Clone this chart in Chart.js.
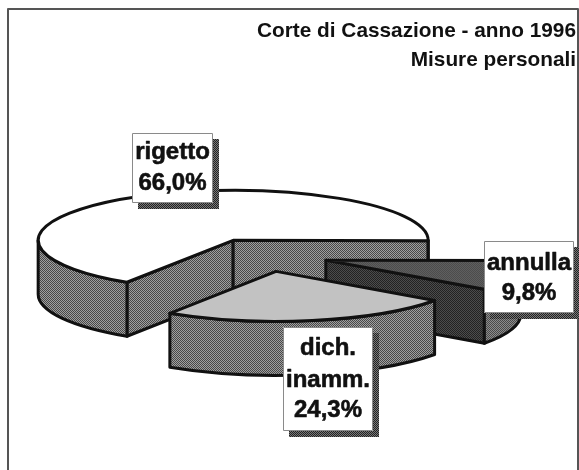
<!DOCTYPE html>
<html>
<head>
<meta charset="utf-8">
<style>
  html, body { margin: 0; padding: 0; background: #fff; }
  #wrap { position: relative; width: 579px; height: 470px; }
</style>
<script src="https://cdn.jsdelivr.net/npm/chart.js@4/dist/chart.umd.js"></script>
</head>
<body>
<div id="wrap"><canvas id="pie" width="579" height="470"></canvas></div>
<script>
// Dati (l'ordine e' anche l'ordine di disegno)
const categories = ['rigetto', 'annulla', 'dich. inamm.'];
const percentages = [66.0, 9.8, 24.3];
const labelLines = [['rigetto'], ['annulla'], ['dich.', 'inamm.']];
const titleLines = ['Corte di Cassazione - anno 1996', 'Misure personali'];

// Aspetto della torta 3D
const centerX = 264;
const centerY = 255;
const radius = 195;
const squash = 50 / 195;
const depth = 54;
const explode = 65;
const startDeg = 213;
const edgeColor = '#111111';

// Riquadri delle etichette, stesso ordine di categories
const labelBoxes = [
    { left: 132, top: 133, right: 213, bottom: 203, lineY: [152, 183] },
    { left: 484, top: 241, right: 574, bottom: 313, lineY: [263, 293] },
    { left: 283, top: 327, right: 373, bottom: 431, lineY: [348, 380, 410] }
];

// Retino 2x2 per imitare il grigio stampato
function dither(dark, light, yScale) {
    const tile = document.createElement('canvas');
    tile.width = 2;
    tile.height = 2;
    const t = tile.getContext('2d');
    t.fillStyle = light;
    t.fillRect(0, 0, 2, 2);
    t.fillStyle = dark;
    t.fillRect(0, 0, 1, 1);
    t.fillRect(1, 1, 1, 1);
    const pattern = t.createPattern(tile, 'repeat');
    if (yScale) pattern.setTransform(new DOMMatrix([1, 0, 0, yScale, 0, 0]));
    return pattern;
}

const topFills = [
    '#ffffff',
    dither('#3c3c3c', '#707070', 1 / squash),
    dither('#a8a8a8', '#dcdcdc', 1 / squash)
];
const rimFills = [
    dither('#484848', '#a0a0a0'),
    dither('#4a4a4a', '#8c8c8c'),
    dither('#484848', '#a0a0a0')
];
const faceFills = [
    dither('#484848', '#a0a0a0'),
    dither('#222222', '#4c4c4c'),
    dither('#484848', '#a0a0a0')
];
const shadowFill = dither('#222222', '#777777');

function sliceCenter(arc) {
    const mid = (arc.startAngle + arc.endAngle) / 2;
    return {
        x: centerX + Math.cos(mid) * explode,
        y: centerY + Math.sin(mid) * explode * squash
    };
}

function rimPoint(c, angle) {
    return { x: c.x + Math.cos(angle) * radius, y: c.y + Math.sin(angle) * radius * squash };
}

// Faccia del taglio, dal centro al bordo
function drawFace(ctx, c, angle, fill) {
    const p = rimPoint(c, angle);
    ctx.beginPath();
    ctx.moveTo(c.x, c.y);
    ctx.lineTo(p.x, p.y);
    ctx.lineTo(p.x, p.y + depth);
    ctx.lineTo(c.x, c.y + depth);
    ctx.closePath();
    ctx.fillStyle = fill;
    ctx.fill();
    ctx.stroke();
}

// Parete esterna, solo la parte rivolta verso chi guarda
function drawRim(ctx, c, a, b, fill) {
    for (let n = 0; n < 2; n++) {
        const lo = Math.max(a, n * 2 * Math.PI);
        const hi = Math.min(b, Math.PI + n * 2 * Math.PI);
        if (hi <= lo) continue;
        ctx.beginPath();
        ctx.ellipse(c.x, c.y, radius, radius * squash, 0, lo, hi);
        ctx.ellipse(c.x, c.y + depth, radius, radius * squash, 0, hi, lo, true);
        ctx.closePath();
        ctx.fillStyle = fill;
        ctx.fill();
        ctx.stroke();
    }
}

const pie3d = {
    id: 'pie3d',
    beforeDatasetDraw(chart, args) {
        const ctx = chart.ctx;
        ctx.lineWidth = 3;
        ctx.lineJoin = 'round';
        ctx.strokeStyle = edgeColor;
        chart.getDatasetMeta(args.index).data.forEach((arc, i) => {
            const c = sliceCenter(arc);
            const a = arc.startAngle;
            const b = arc.endAngle;

            if (Math.sin(a - Math.PI / 2) > 0) drawFace(ctx, c, a, faceFills[i]);
            if (Math.sin(b + Math.PI / 2) > 0) drawFace(ctx, c, b, faceFills[i]);
            drawRim(ctx, c, a, b, rimFills[i]);

            // La faccia superiore la disegna Chart.js, schiacciata
            ctx.save();
            ctx.translate(c.x, c.y);
            ctx.scale(1, squash);
            ctx.translate(-arc.x, -arc.y);
            arc.draw(ctx);
            ctx.restore();

            ctx.beginPath();
            ctx.moveTo(c.x, c.y);
            ctx.ellipse(c.x, c.y, radius, radius * squash, 0, a, b);
            ctx.closePath();
            ctx.stroke();
        });
        return false;
    },
    afterDatasetsDraw(chart) {
        const ctx = chart.ctx;
        // Cornice: manca il lato in basso
        ctx.strokeStyle = '#555555';
        ctx.lineWidth = 2;
        ctx.beginPath();
        ctx.moveTo(8, 470);
        ctx.lineTo(8, 9);
        ctx.lineTo(578, 9);
        ctx.lineTo(578, 470);
        ctx.stroke();

        ctx.font = 'bold 24px "Liberation Sans"';
        ctx.textAlign = 'center';
        ctx.textBaseline = 'middle';
        labelBoxes.forEach((box, i) => {
            const w = box.right - box.left;
            const h = box.bottom - box.top;
            ctx.fillStyle = shadowFill;
            ctx.fillRect(box.left + 6, box.top + 6, w, h);
            ctx.fillStyle = '#ffffff';
            ctx.fillRect(box.left, box.top, w, h);
            ctx.strokeStyle = '#8a8a8a';
            ctx.lineWidth = 1;
            ctx.strokeRect(box.left + 0.5, box.top + 0.5, w - 1, h - 1);

            const lines = labelLines[i].concat(percentages[i].toFixed(1).replace('.', ',') + '%');
            ctx.fillStyle = '#111111';
            ctx.strokeStyle = '#111111';
            ctx.lineWidth = 0.6;
            lines.forEach((line, j) => {
                const x = (box.left + box.right) / 2;
                ctx.fillText(line, x, box.lineY[j]);
                ctx.strokeText(line, x, box.lineY[j]);
            });
        });
    }
};

new Chart(document.getElementById('pie'), {
    type: 'pie',
    data: {
        labels: categories,
        datasets: [{
            data: percentages,
            backgroundColor: topFills,
            borderWidth: 0
        }]
    },
    options: {
        responsive: false,
        animation: false,
        events: [],
        rotation: startDeg,
        radius: radius,
        layout: { padding: { right: 3 } },
        plugins: {
            legend: { display: false },
            tooltip: { enabled: false },
            title: {
                display: true,
                text: titleLines,
                align: 'end',
                color: '#111111',
                padding: { top: 17, bottom: 0 },
                font: { family: '"Liberation Sans"', size: 20.8, weight: 'bold', lineHeight: 1.4 }
            }
        }
    },
    plugins: [pie3d]
});
</script>
</body>
</html>
